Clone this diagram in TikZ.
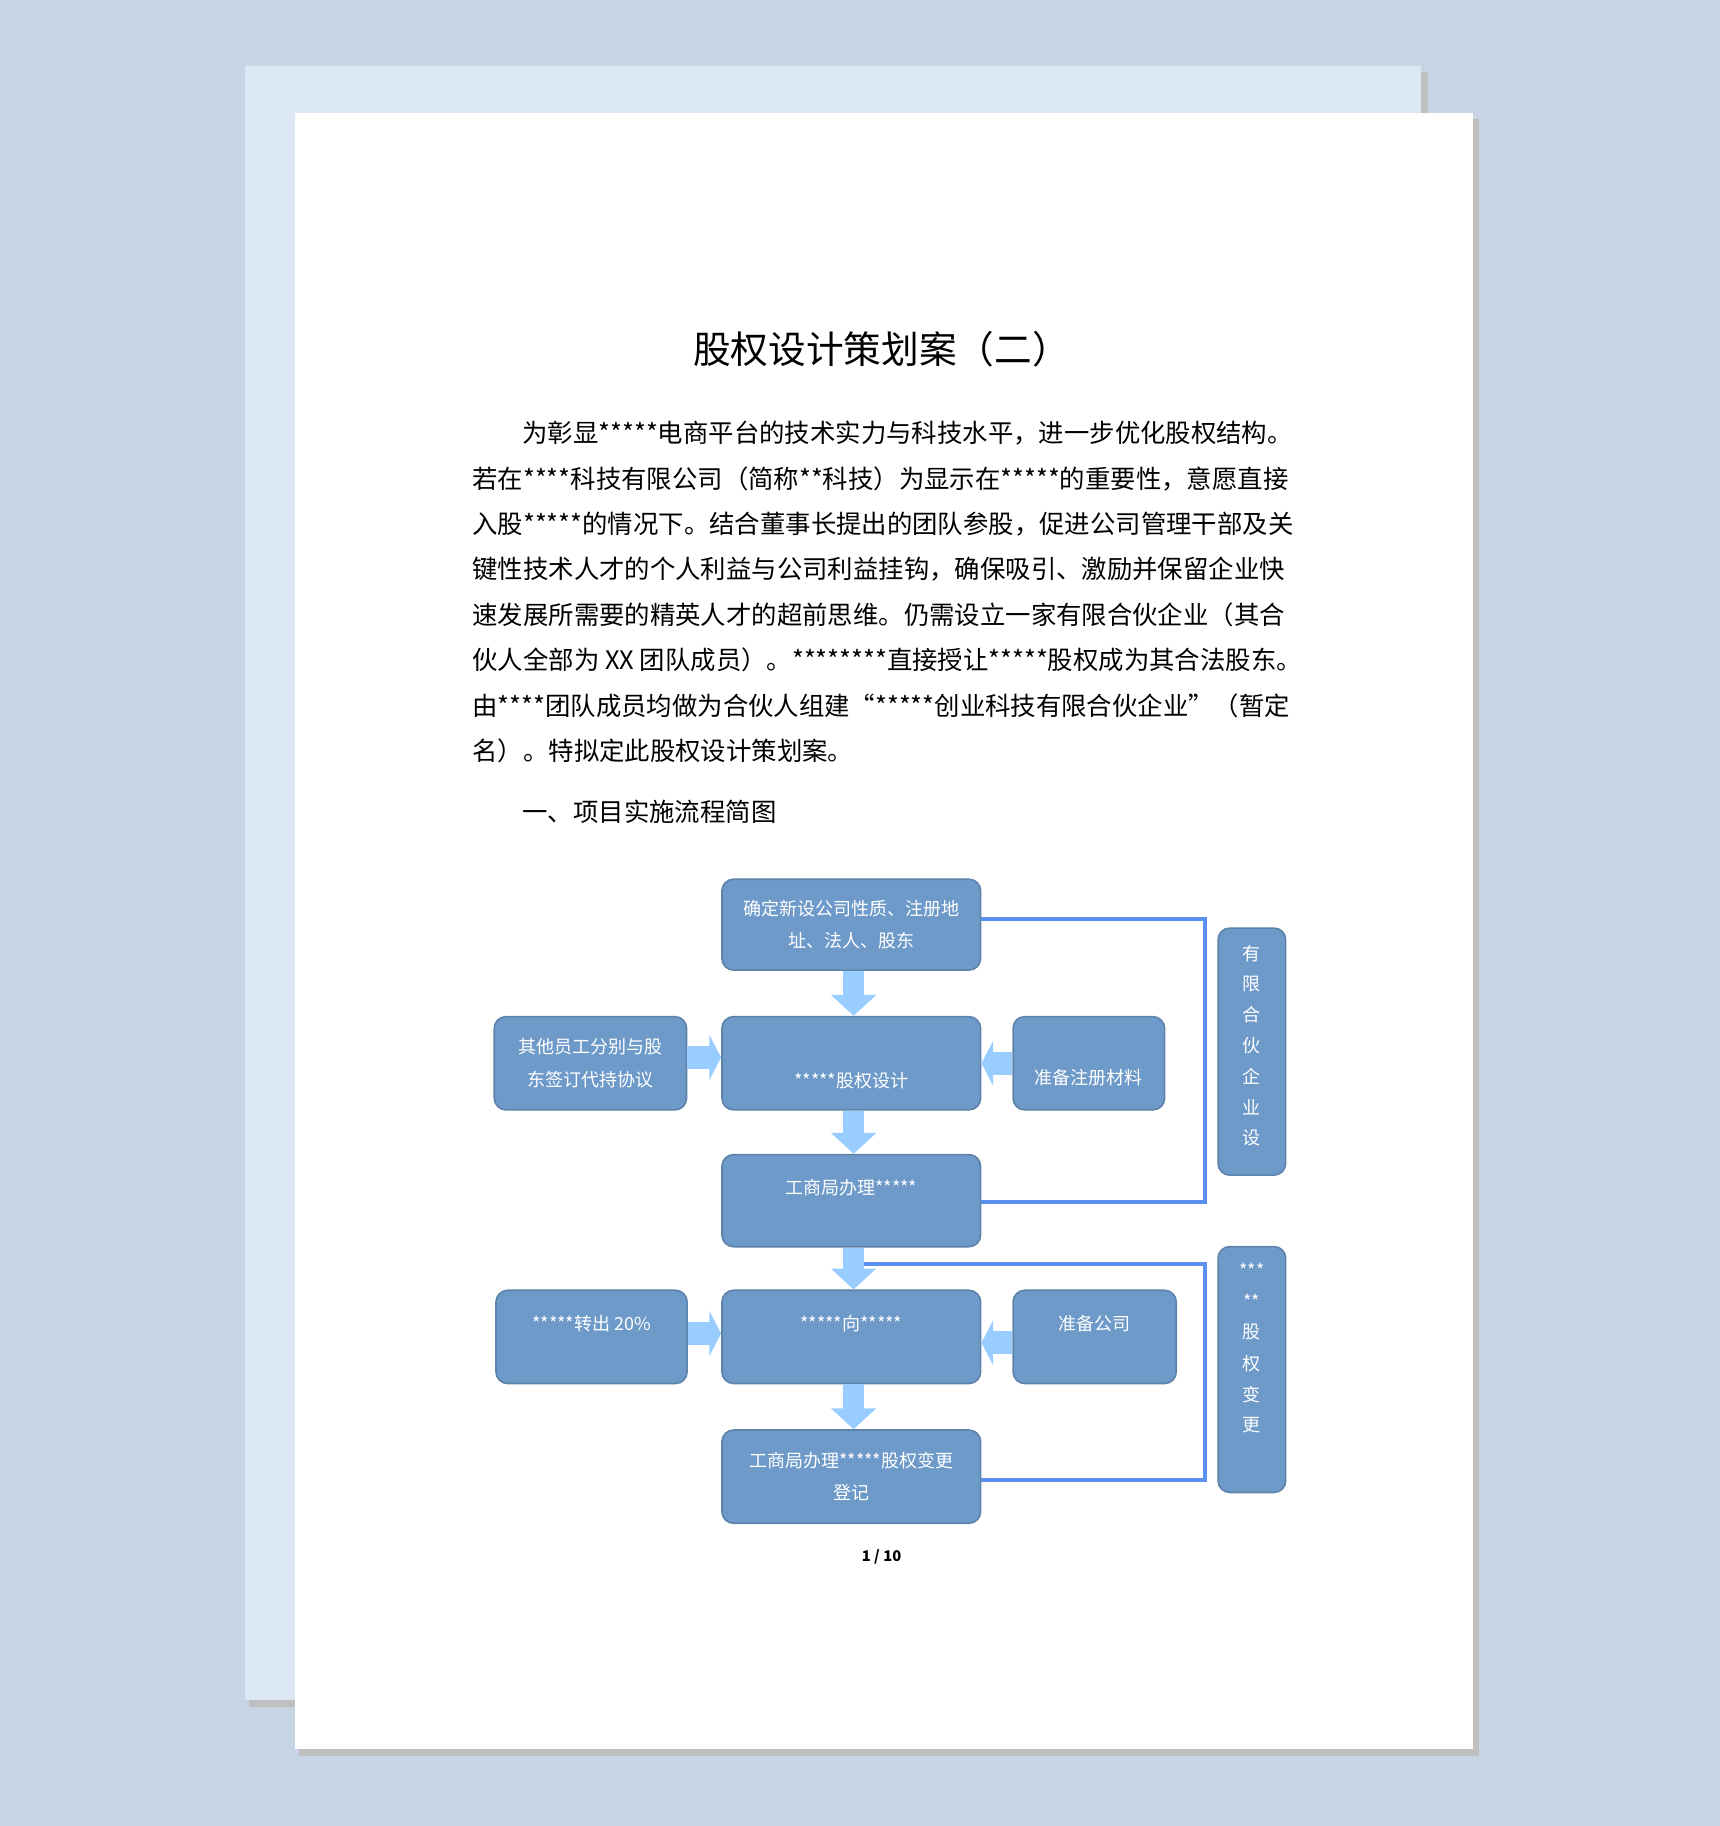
\documentclass[tikz,border=0pt]{standalone}
\usepackage{fontspec}
\setmainfont{Noto Sans CJK SC}
\usetikzlibrary{arrows.meta,positioning}

\definecolor{bgblue}{HTML}{C6D4E3}
\definecolor{sheetblue}{HTML}{DCE7F4}
\definecolor{boxblue}{HTML}{6E9AC9}
\definecolor{arrowblue}{HTML}{99CCFF}
\definecolor{lineblue}{HTML}{5B8FF0}

\tikzset{
	stepbox/.style = {draw = boxblue!85!black, fill = boxblue, rounded corners = 0.1cm,
		inner sep = 0, text = white, font = \fontsize{4.4}{5}\selectfont},
	fatarrow/.style = {arrowblue, line width = 0.18cm, -{Triangle[width = 0.38cm, length = 0.18cm]}},
	sidearrow/.style = {arrowblue, line width = 0.2cm, -{Triangle[width = 0.38cm, length = 0.1cm]}},
	link/.style = {lineblue, line width = 0.035cm},
	bodyline/.style = {anchor = west, inner sep = 0, font = \fontsize{6.2}{7}\selectfont}
}

\begin{document}
\begin{tikzpicture}[x = 0.01cm, y = -0.01cm]

	% Background and sheets

	\fill [bgblue] (0, 0) rectangle (1477, 1568);
	\useasboundingbox (0, 0) rectangle (1477, 1568);
	\fill [black!25] (214, 62) rectangle (1226, 1466);
	\fill [sheetblue] (210, 57) rectangle (1220, 1460);
	\fill [black!25] (257, 102) rectangle (1270, 1508);
	\fill [white] (253, 97) rectangle (1265, 1502);

	% Title and text

	\node [font = \fontsize{9.2}{10}\selectfont] (title) at (757, 300) {股权设计策划案（二）};

	\node [bodyline] (l1) at (448, 372) {为彰显*****电商平台的技术实力与科技水平，进一步优化股权结构。};
	\node [bodyline] (l2) at (405, 411) {若在****科技有限公司（简称**科技）为显示在*****的重要性，意愿直接};
	\node [bodyline] (l3) at (405, 450) {入股*****的情况下。结合董事长提出的团队参股，促进公司管理干部及关};
	\node [bodyline] (l4) at (405, 489) {键性技术人才的个人利益与公司利益挂钩，确保吸引、激励并保留企业快};
	\node [bodyline] (l5) at (405, 528) {速发展所需要的精英人才的超前思维。仍需设立一家有限合伙企业（其合};
	\node [bodyline] (l6) at (405, 567) {伙人全部为 XX 团队成员）。********直接授让*****股权成为其合法股东。};
	\node [bodyline] (l7) at (405, 606) {由****团队成员均做为合伙人组建“*****创业科技有限合伙企业”（暂定};
	\node [bodyline] (l8) at (405, 645) {名）。特拟定此股权设计策划案。};
	\node [bodyline] (head) at (448, 697) {一、项目实施流程简图};

	% Flow boxes

	\node [stepbox, minimum width = 2.22cm, minimum height = 0.78cm, align = center] (setup) at (731, 794)
		{确定新设公司性质、注册地\\[0.1cm]址、法人、股东};
	\node [stepbox, minimum width = 2.22cm, minimum height = 0.8cm] (design) at (731, 913) {};
	\node [white, font = \fontsize{4.4}{5}\selectfont] at (731, 928) {*****股权设计};
	\node [stepbox, minimum width = 1.65cm, minimum height = 0.8cm, align = center] (staff) at (507, 913)
		{其他员工分别与股\\[0.1cm]东签订代持协议};
	\node [stepbox, minimum width = 1.3cm, minimum height = 0.8cm] (material) at (935, 913) {};
	\node [white, font = \fontsize{4.4}{5}\selectfont] at (935, 925) {准备注册材料};
	\node [stepbox, minimum width = 2.22cm, minimum height = 0.79cm] (register) at (731, 1031) {};
	\node [white, font = \fontsize{4.4}{5}\selectfont] at (731, 1020) {工商局办理*****};
	\node [stepbox, minimum width = 0.58cm, minimum height = 2.12cm] (partner) at (1075, 903) {};
	\foreach \c [count = \i from 0] in {有, 限, 合, 伙, 企, 业, 设}
		\node [white, font = \fontsize{4.4}{5}\selectfont] at (1075, 819 + 26.3 * \i) {\c};

	\node [stepbox, minimum width = 2.22cm, minimum height = 0.8cm] (transfer) at (731, 1148) {};
	\node [white, font = \fontsize{4.4}{5}\selectfont] at (731, 1137) {*****向*****};
	\node [stepbox, minimum width = 1.64cm, minimum height = 0.8cm] (share) at (508, 1148) {};
	\node [white, font = \fontsize{4.4}{5}\selectfont] at (508, 1137) {*****转出 20\%};
	\node [stepbox, minimum width = 1.4cm, minimum height = 0.8cm] (prepare) at (940, 1148) {};
	\node [white, font = \fontsize{4.4}{5}\selectfont] at (940, 1137) {准备公司};
	\node [stepbox, minimum width = 2.22cm, minimum height = 0.8cm, align = center] (change) at (731, 1268)
		{工商局办理*****股权变更\\[0.1cm]登记};
	\node [stepbox, minimum width = 0.58cm, minimum height = 2.11cm] (equity) at (1075, 1176) {};
	\foreach \c [count = \i from 0] in {***, **, 股, 权, 变, 更}
		\node [white, font = \fontsize{4.4}{5}\selectfont] at (1075, 1091 + 26.6 * \i) {\c};

	% Block arrows

	\draw [fatarrow] ([xshift = 0.02cm] setup.south) -- ([xshift = 0.02cm] design.north);
	\draw [fatarrow] ([xshift = 0.02cm] design.south) -- ([xshift = 0.02cm] register.north);
	\draw [fatarrow] ([xshift = 0.02cm] register.south) -- ([xshift = 0.02cm] transfer.north);
	\draw [fatarrow] ([xshift = 0.02cm] transfer.south) -- ([xshift = 0.02cm] change.north);
	\draw [sidearrow] ([yshift = 0.05cm] staff.east) -- ([yshift = 0.05cm] design.west);
	\draw [sidearrow] (material.west) -- (design.east);
	\draw [sidearrow] ([yshift = 0.03cm] share.east) -- ([yshift = 0.03cm] transfer.west);
	\draw [sidearrow] ([yshift = -0.05cm] prepare.west) -- ([yshift = -0.05cm] transfer.east);

	% Brackets to side labels

	\coordinate (split) at (742, 1085);
	\draw [link] ([yshift = 0.05cm] setup.east) -| (1035, 1032) -- (register.east |- 0, 1032);
	\draw [link] (split) -| (1035, 1271) -- (change.east |- 0, 1271);

	% Page number

	\node [font = \bfseries\fontsize{3.6}{4}\selectfont] (page) at (757, 1337) {1 / 10};

\end{tikzpicture}
\end{document}
